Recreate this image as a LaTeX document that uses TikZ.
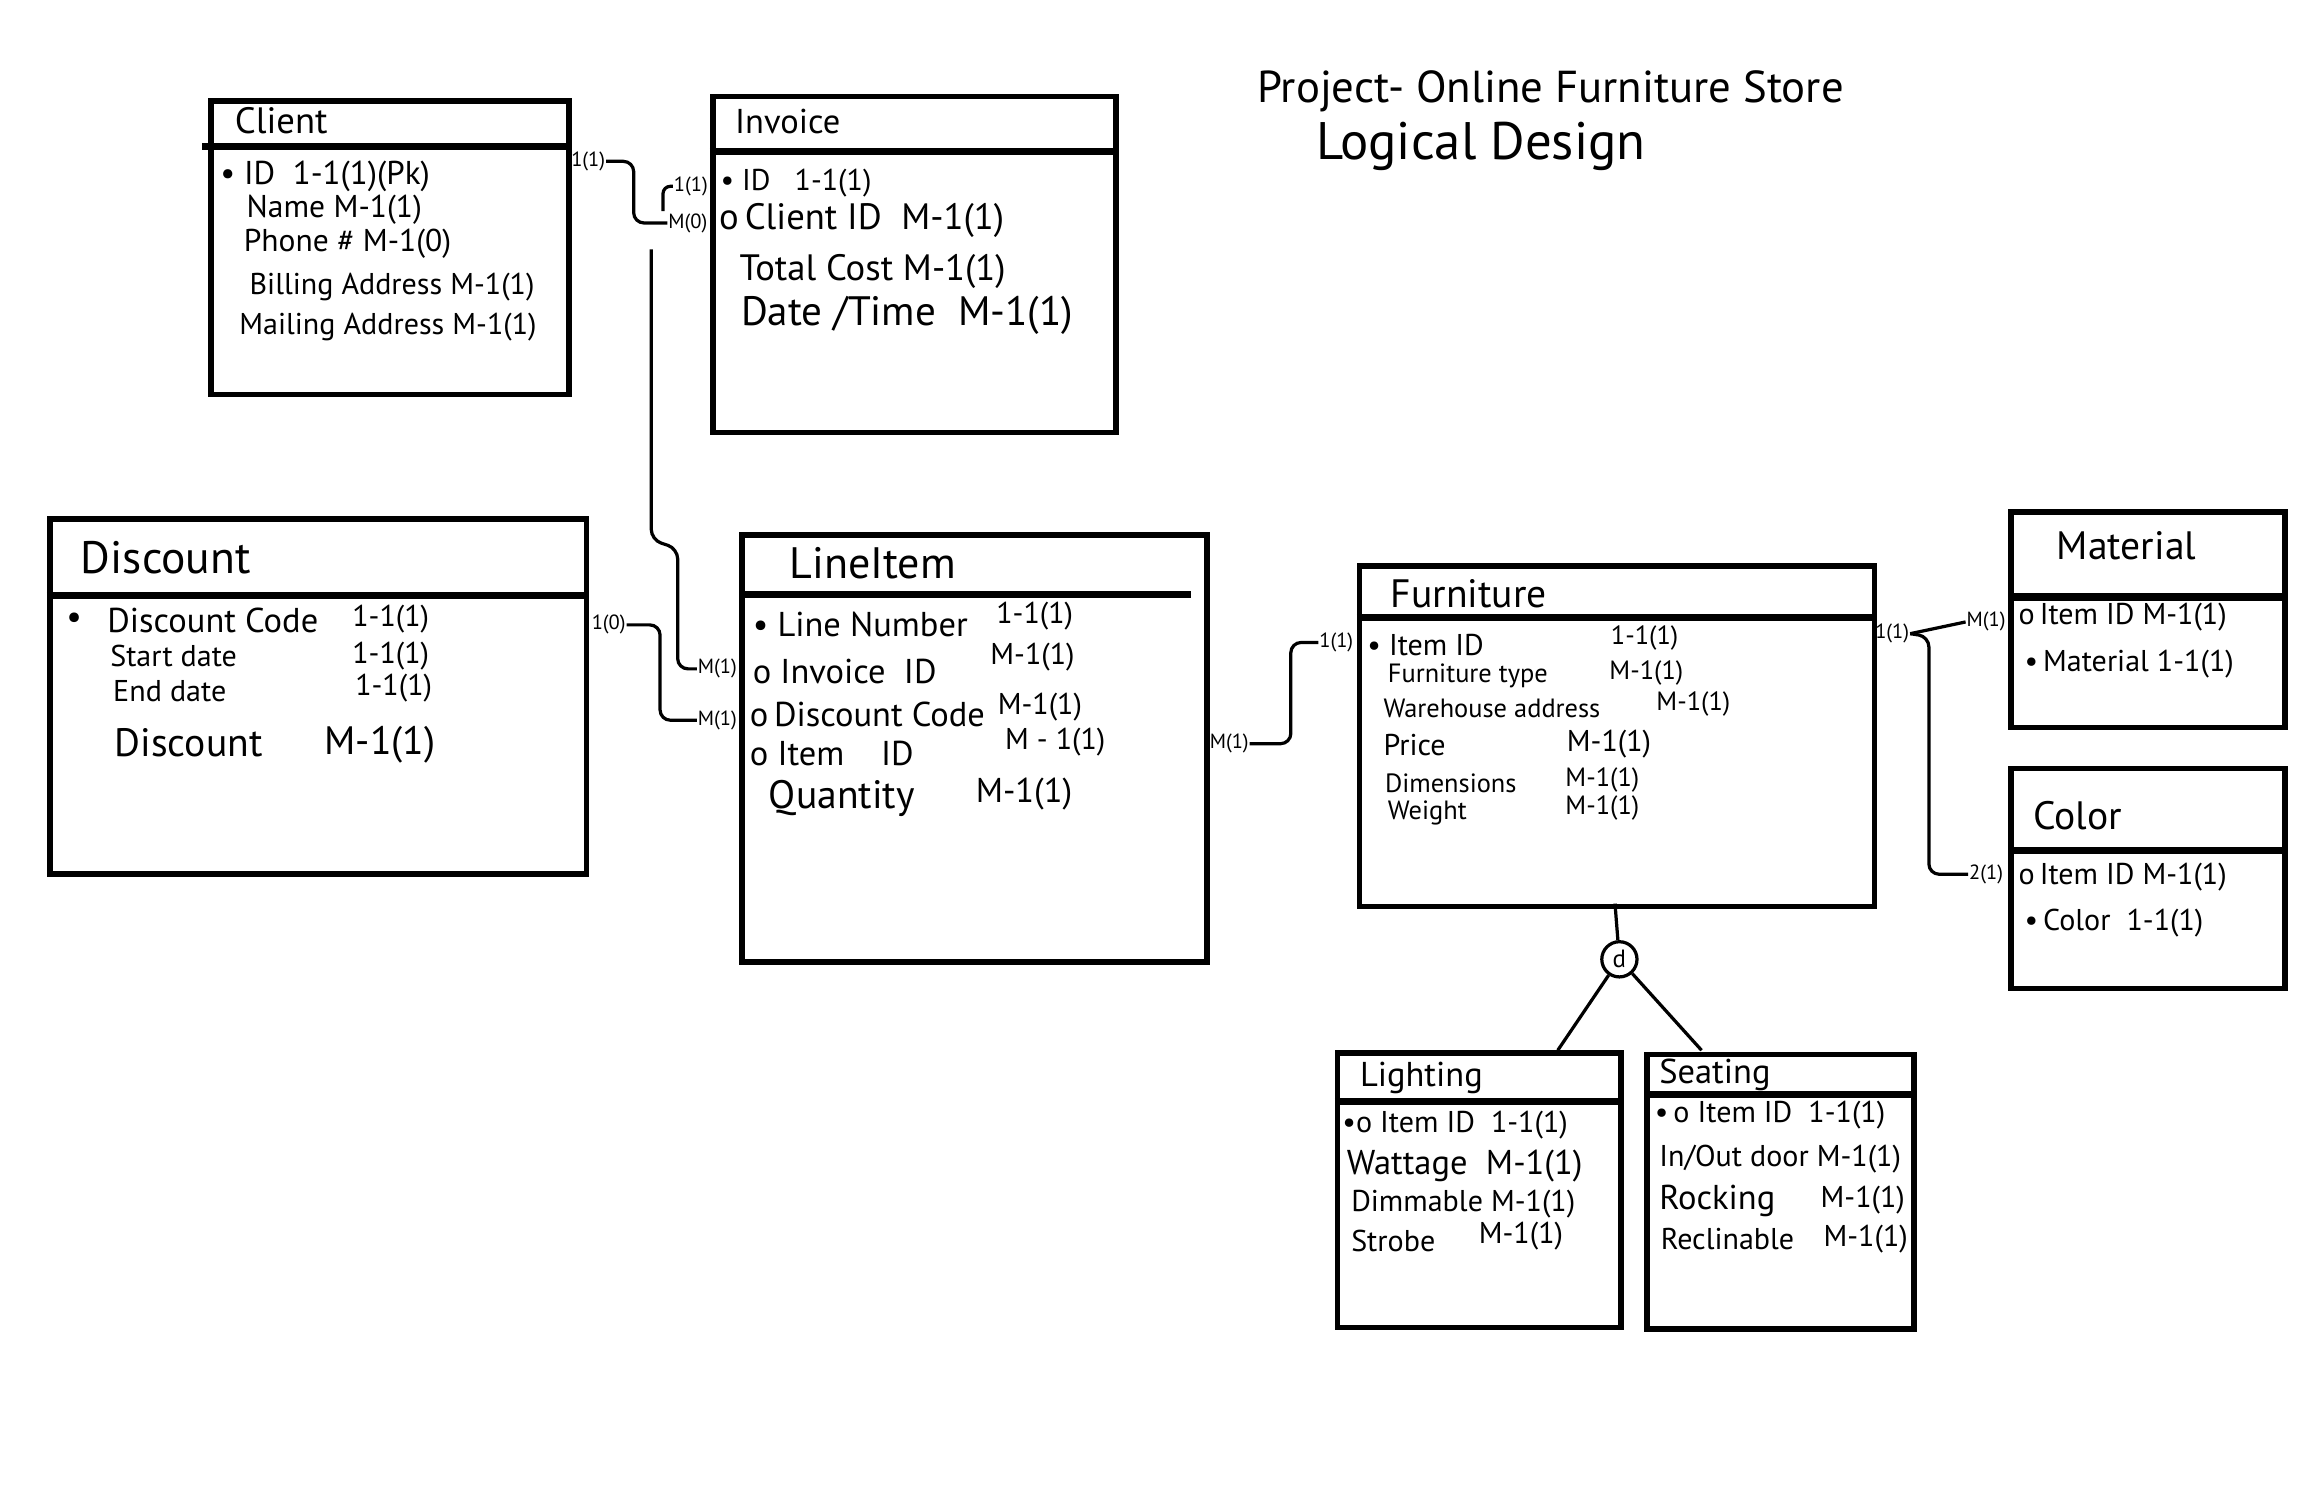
\documentclass[tikz,border=0pt]{standalone}
\usepackage{fontspec}
\setmainfont{PT Sans}
\begin{document}
\begin{tikzpicture}[x=1pt,y=-1pt,
  ent/.style={draw, line width=3.8pt, anchor=north west, inner sep=0pt},
  divider/.style={line width=4.8pt},
  conn/.style={line width=2.2pt, rounded corners=7pt},
  txt/.style={anchor=west, inner sep=0pt},
  lbl/.style={inner sep=0.5pt, font=\fontsize{14}{15}\selectfont},
  tA/.style={font=\fontsize{31}{33}\selectfont},
  tB/.style={font=\fontsize{27}{29}\selectfont},
  tC/.style={font=\fontsize{23.5}{25}\selectfont},
  tD/.style={font=\fontsize{20.5}{22}\selectfont},
  tE/.style={font=\fontsize{18}{20}\selectfont}]
\useasboundingbox (0,0) rectangle (1568,1027);
\fill[white] (0,0) rectangle (1568,1027);

% title
\node[txt, font=\fontsize{30.5}{32}\selectfont] (title1) at (857,62) {Project- Online Furniture Store};
\node[txt, font=\fontsize{36}{38}\selectfont] (title2) at (897,100) {Logical Design};

% ---------- Client
\node[ent, minimum width=244pt, minimum height=200pt] (client) at (142,67) {};
\draw[divider] (138,100) -- (386,100);
\node[txt, font=\fontsize{25}{26}\selectfont] (clientT) at (160,82) {Client};
\node[txt, font=\fontsize{22.5}{24}\selectfont] at (150,120) {\textbullet\ ID\ \ 1-1(1)(Pk)};
\node[txt, font=\fontsize{21.5}{23}\selectfont] at (168,143) {Name M-1(1)};
\node[txt, font=\fontsize{21.5}{23}\selectfont] at (166,166) {Phone \# M-1(0)};
\node[txt, tD] at (170,196) {Billing Address M-1(1)};
\node[txt, tD] at (163,223) {Mailing Address M-1(1)};

% ---------- Invoice
\node[ent, minimum width=275pt, minimum height=229pt] (invoice) at (484,64) {};
\draw[divider] (484,103) -- (763,103);
\node[txt, tC] (invoiceT) at (501,83) {Invoice};
\node[txt, tD] at (491,125) {\textbullet\ ID\ \ \ 1-1(1)};
\node[txt, font=\fontsize{25}{27}\selectfont] at (490,150) {o\,Client ID\ \ M-1(1)};
\node[txt, font=\fontsize{25}{27}\selectfont] at (504,185) {Total Cost M-1(1)};
\node[txt, font=\fontsize{28}{30}\selectfont] at (505,215) {Date /Time\ \ M-1(1)};

% ---------- Discount
\node[ent, minimum width=366pt, minimum height=242pt] (discount) at (32,352) {};
\draw[divider] (32,406) -- (398,406);
\node[txt, tA] (discountT) at (55,380) {Discount};
\node[txt, tC] at (45,423) {\textbullet};
\node[txt, tC] at (73,423) {Discount Code};
\node[txt, tD] at (240,422) {1-1(1)};
\node[txt, tD] at (75,447) {Start date};
\node[txt, tD] at (240,447) {1-1(1)};
\node[txt, tD] at (77,471) {End date};
\node[txt, tD] at (242,469) {1-1(1)};
\node[txt, tB] at (78,506) {Discount};
\node[txt, tB] at (221,508) {M-1(1)};

% ---------- LineItem
\node[ent, minimum width=317pt, minimum height=291pt] (lineitem) at (504,363) {};
\draw[divider] (504,405) -- (812,405);
\node[txt, font=\fontsize{30}{32}\selectfont] (lineitemT) at (538,384) {LineItem};
\node[txt, tC] at (513,426) {\textbullet\ Line Number};
\node[txt, tD] at (679,420) {1-1(1)};
\node[txt, tC] at (513,458) {o Invoice\ \ ID};
\node[txt, tD] at (675,448) {M-1(1)};
\node[txt, tC] at (511,487) {o\,Discount Code};
\node[txt, tD] at (680,482) {M-1(1)};
\node[txt, tC] at (511,514) {o Item\ \ \ \ ID};
\node[txt, tD] at (685,506) {M - 1(1)};
\node[txt, tB] at (524,544) {Quantity};
\node[txt, tC] at (665,541) {M-1(1)};

% ---------- Furniture
\node[ent, minimum width=351pt, minimum height=232pt] (furniture) at (925,384) {};
\draw[divider] (925,421) -- (1276,421);
\node[txt, tB] (furnitureT) at (948,405) {Furniture};
\node[txt, tD] at (932,440) {\textbullet\ Item ID};
\node[txt, tE] at (1098,435) {1-1(1)};
\node[txt, tE] at (946,461) {Furniture type};
\node[txt, tE] at (1097,459) {M-1(1)};
\node[txt, tE] at (943,483) {Warehouse address};
\node[txt, tE] at (1129,480) {M-1(1)};
\node[txt, tD] at (943,508) {Price};
\node[txt, tD] at (1068,507) {M-1(1)};
\node[txt, tE] at (944,534) {Dimensions};
\node[txt, tE] at (1067,532) {M-1(1)};
\node[txt, tE] at (946,554) {Weight};
\node[txt, tE] at (1067,551) {M-1(1)};

% ---------- Material
\node[ent, minimum width=187pt, minimum height=147pt] (material) at (1369,347) {};
\draw[divider] (1369,407) -- (1556,407);
\node[txt, tB] (materialT) at (1402,372) {Material};
\node[txt, tD] at (1376,421) {o\,Item ID M-1(1)};
\node[txt, tD] at (1380,453) {\textbullet\,Material 1-1(1)};

% ---------- Color
\node[ent, minimum width=187pt, minimum height=150pt] (color) at (1369,522) {};
\draw[divider] (1369,580) -- (1556,580);
\node[txt, tB] (colorT) at (1386,556) {Color};
\node[txt, tD] at (1376,598) {o\,Item ID M-1(1)};
\node[txt, tD] at (1380,629) {\textbullet\,Color\ \ 1-1(1)};

% ---------- Lighting
\node[ent, minimum width=193pt, minimum height=187pt] (lighting) at (910,716) {};
\draw[divider] (910,751) -- (1103,751);
\node[txt, tC] (lightingT) at (927,735) {Lighting};
\node[txt, tD] at (915,767) {\textbullet o Item ID\ \ 1-1(1)};
\node[txt, tC] at (918,795) {Wattage\ \ M-1(1)};
\node[txt, tD] at (921,821) {Dimmable M-1(1)};
\node[txt, tD] at (921,846) {Strobe};
\node[txt, tD] at (1008,843) {M-1(1)};

% ---------- Seating
\node[ent, minimum width=182pt, minimum height=187pt] (seating) at (1121,717) {};
\draw[divider] (1121,746) -- (1303,746);
\node[txt, tC] (seatingT) at (1131,733) {Seating};
\node[txt, tD] at (1128,760) {\textbullet\,o Item ID\ \ 1-1(1)};
\node[txt, tD] at (1131,790) {In/Out door M-1(1)};
\node[txt, tC] at (1131,819) {Rocking};
\node[txt, tD] at (1241,818) {M-1(1)};
\node[txt, tD] at (1132,845) {Reclinable};
\node[txt, tD] at (1243,845) {M-1(1)};

% ---------- specialization
\node[draw, circle, line width=2.2pt, minimum size=24pt, inner sep=0pt, font=\fontsize{17}{17}\selectfont] (d) at (1104,654) {d};
\draw[line width=2.2pt] (1101,616) -- (d);
\draw[line width=2.2pt] (d) -- (1062,716);
\draw[line width=2.2pt] (d) -- (1160,716);

% ---------- connector labels
\node[lbl] (c1) at (401,110) {1(1)};
\node[lbl] (i1) at (471,127) {1(1)};
\node[lbl] (i2) at (469,152) {M(0)};
\node[lbl] (li1) at (489,456) {M(1)};
\node[lbl] (d1) at (415,426) {1(0)};
\node[lbl] (li2) at (489,491) {M(1)};
\node[lbl] (l3) at (838,507) {M(1)};
\node[lbl] (f1) at (911,438) {1(1)};
\node[lbl] (f2) at (1290,432) {1(1)};
\node[lbl] (ma1) at (1354,424) {M(1)};
\node[lbl] (co1) at (1354,596) {2(1)};
\coordinate (hook) at (452,144);
\coordinate (invstub) at (444,170);

% ---------- connectors
\draw[conn] (c1.east) -- (432,110) |- (i2.west);
\draw[conn, rounded corners=5pt] (hook) |- (i1.west);
\draw[conn] (invstub) -- (444,368) -- (462,374) |- (li1.west);
\draw[conn] (d1.east) -- (450,426) |- (li2.west);
\draw[conn] (l3.east) -- (880,507) |- (f1.west);
\draw[conn] (f2.east) -- (ma1.west);
\draw[conn] (f2.east) -- (1315,434) |- (co1.west);
\end{tikzpicture}
\end{document}
